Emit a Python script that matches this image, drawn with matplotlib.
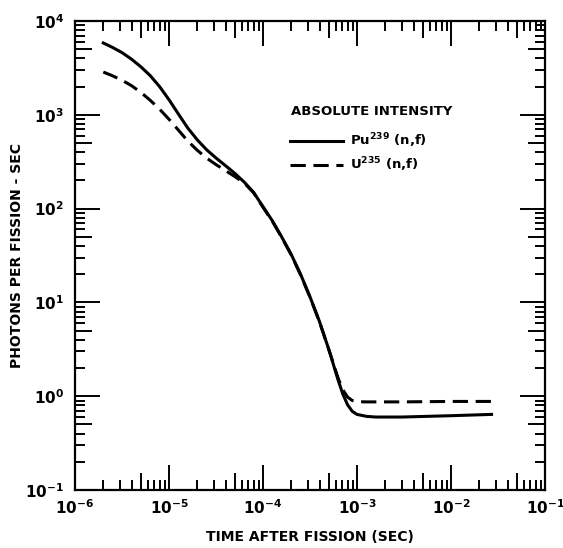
import numpy as np
import matplotlib
matplotlib.use("Agg")
import matplotlib.pyplot as plt
from matplotlib.ticker import FixedLocator, FuncFormatter, NullFormatter

plt.rcParams['font.family'] = ['DejaVu Sans']
plt.rcParams['font.weight'] = 'bold'
plt.rcParams['mathtext.default'] = 'bf'

# Pu239 (n,f) -- solid curve
t_pu = [2e-6, 2.5e-6, 3.16e-6, 3.98e-6, 5.01e-6, 6.31e-6, 7.94e-6, 1e-5, 1.26e-5, 1.58e-5,
        2e-5, 2.51e-5, 3.16e-5, 3.98e-5, 5.01e-5, 6.31e-5, 7.94e-5, 1e-4, 1.26e-4, 1.58e-4,
        2e-4, 2.51e-4, 3.16e-4, 3.98e-4, 5.01e-4, 6.31e-4, 7.08e-4, 7.94e-4, 8.91e-4, 1e-3,
        1.26e-3, 1.58e-3, 3e-3, 1e-2, 2.7e-2]
y_pu = [5840, 5240, 4610, 3930, 3260, 2620, 2000, 1450, 1020, 726,
        541, 425, 347, 288, 238, 192, 149, 105, 74, 50,
        32.4, 20, 11.5, 6.3, 3.16, 1.48, 1.05, 0.81, 0.69, 0.64,
        0.61, 0.60, 0.60, 0.62, 0.64]

# U235 (n,f) -- dashed curve
t_u = [2e-6, 2.5e-6, 3.16e-6, 3.98e-6, 5.01e-6, 6.31e-6, 7.94e-6, 1e-5, 1.26e-5, 1.58e-5,
       2e-5, 2.51e-5, 3.16e-5, 3.98e-5, 5.01e-5, 6.31e-5, 7.94e-5, 1e-4, 1.26e-4, 1.58e-4,
       2e-4, 2.51e-4, 3.16e-4, 3.98e-4, 5.01e-4, 6.31e-4, 7.08e-4, 7.94e-4, 8.91e-4, 1e-3,
       1.26e-3, 3e-3, 1e-2, 2.7e-2]
y_u = [2860, 2610, 2340, 2050, 1740, 1430, 1150, 897, 687, 527,
       419, 346, 295, 255, 220, 188, 148, 103.5, 73, 49.5,
       32, 19.7, 11.4, 6.25, 3.16, 1.55, 1.17, 0.98, 0.90, 0.875,
       0.87, 0.87, 0.88, 0.88]

fig = plt.figure(figsize=(5.63, 5.48), dpi=100)
ax = fig.add_axes([0.1332, 0.1058, 0.8348, 0.8558])

ax.plot(t_pu, y_pu, color='black', lw=2.2, label='Pu$^{239}$ (n,f)')
ax.plot(t_u, y_u, color='black', lw=2.2, dashes=(5, 2.5), label='U$^{235}$ (n,f)')

ax.set_xscale('log')
ax.set_yscale('log')
ax.set_xlim(1e-6, 1e-1)
ax.set_ylim(1e-1, 1e4)

dec_x = [10.0 ** k for k in range(-6, 0)]
dec_y = [10.0 ** k for k in range(-1, 5)]
subs = [2, 3, 4, 6, 7, 8, 9]
minor_x = [s * d for d in dec_x[:-1] for s in subs]
minor_y = [s * d for d in dec_y[:-1] for s in subs]
half_x = [5 * d for d in dec_x[:-1]]
half_y = [5 * d for d in dec_y[:-1]]

fmt = FuncFormatter(lambda v, p: r'$10^{%d}$' % int(round(np.log10(v))))
ax.xaxis.set_major_locator(FixedLocator(dec_x))
ax.yaxis.set_major_locator(FixedLocator(dec_y))
ax.xaxis.set_minor_locator(FixedLocator(minor_x))
ax.yaxis.set_minor_locator(FixedLocator(minor_y))
ax.xaxis.set_major_formatter(fmt)
ax.yaxis.set_major_formatter(fmt)
ax.xaxis.set_minor_formatter(NullFormatter())
ax.yaxis.set_minor_formatter(NullFormatter())

ax.tick_params(which='both', direction='in', top=True, right=True, width=1.4, labelsize=11)
ax.tick_params(which='major', length=18)
ax.tick_params(which='minor', length=7)
ax.tick_params(axis='x', which='major', pad=6)
ax.tick_params(axis='y', which='major', pad=8)
for sp in ax.spines.values():
    sp.set_linewidth(1.6)

# medium ticks at 5 x 10^n on all four sides
for side in ['bottom', 'top']:
    sec = ax.secondary_xaxis(side)
    sec.set_xticks(half_x)
    sec.tick_params(direction='in', length=12, width=1.4, labelbottom=False, labeltop=False)
    sec.xaxis.set_minor_locator(FixedLocator([]))
    sec.spines[side].set_visible(False)
for side in ['left', 'right']:
    sec = ax.secondary_yaxis(side)
    sec.set_yticks(half_y)
    sec.tick_params(direction='in', length=12, width=1.4, labelleft=False, labelright=False)
    sec.yaxis.set_minor_locator(FixedLocator([]))
    sec.spines[side].set_visible(False)

ax.set_xlabel('TIME AFTER FISSION (SEC)', fontsize=10, fontweight='bold', labelpad=9)
ax.set_ylabel('PHOTONS PER FISSION - SEC', fontsize=10, fontweight='bold', labelpad=1)

ax.text(0.4596, 0.808, 'ABSOLUTE INTENSITY', transform=ax.transAxes, fontsize=9.5,
        fontweight='bold', ha='left', va='center')
leg = ax.legend(loc='upper left', bbox_to_anchor=(0.458, 0.765),
                frameon=False, fontsize=9.5,
                handlelength=4.0, handletextpad=0.5, labelspacing=0.45,
                borderpad=0, borderaxespad=0)

fig.savefig('out.png', dpi=100)
